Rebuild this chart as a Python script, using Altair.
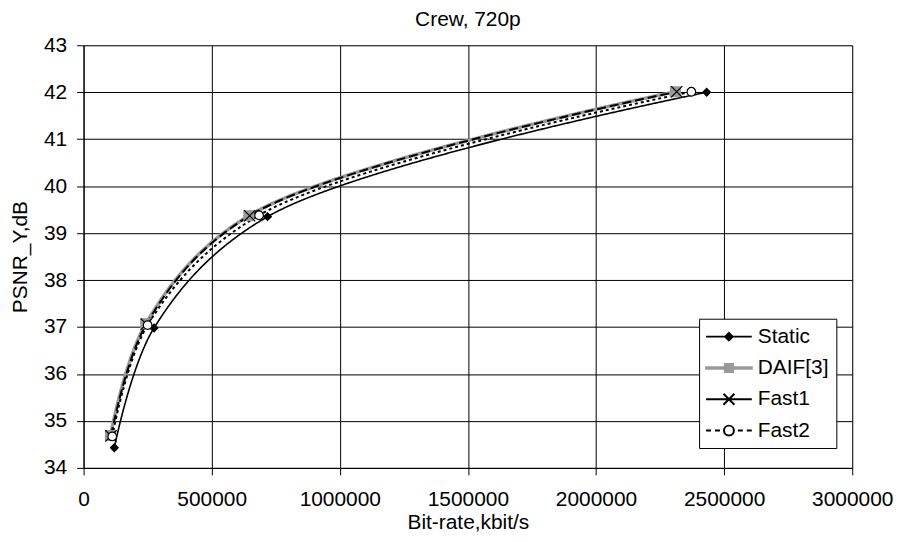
import altair as alt
import pandas as pd

# ---- data ----
series_names = ["Static", "DAIF[3]", "Fast1", "Fast2"]
static_rate = [120000, 275000, 718000, 2432000]
static_psnr = [34.43, 36.98, 39.35, 42.00]
daif_rate = [105000, 243000, 645000, 2310000]
daif_psnr = [34.69, 37.07, 39.37, 42.01]
fast1_rate = [107000, 245000, 648000, 2315000]
fast1_psnr = [34.68, 37.06, 39.37, 42.01]
fast2_rate = [112000, 250000, 685000, 2372000]
fast2_psnr = [34.67, 37.04, 39.38, 42.01]

x_ticks = [0, 500000, 1000000, 1500000, 2000000, 2500000, 3000000]
y_ticks = [34 + 0.5 * i for i in range(19)]

rates = [static_rate, daif_rate, fast1_rate, fast2_rate]
psnrs = [static_psnr, daif_psnr, fast1_psnr, fast2_psnr]
rows = []
for name, r, p in zip(series_names, rates, psnrs):
    for i, (a, b) in enumerate(zip(r, p)):
        rows.append({"series": name, "rate": a, "psnr": b, "idx": i})
df = pd.DataFrame(rows)

# ---- styles ----
line_colors = ["#000000", "#999999", "#000000", "#000000"]
line_widths = [1.6, 3.5, 2, 2]
line_dashes = [[1, 0], [1, 0], [9, 4], [3, 3]]
X_SHAPE = "M-1,-1L1,1M-1,1L1,-1"
marker_shapes = ["diamond", "square", X_SHAPE, "circle"]
marker_fill = ["#000000", "#999999", "transparent", "#ffffff"]
marker_stroke = ["#000000", "#999999", "#000000", "#000000"]
marker_sizes = [60, 100, 130, 75]

# legend glyphs (units of 10 px, symbol centre is 11 px from entry start)
legend_paths = [
    "M-1.1,0H3.5M1.2,-0.38L1.58,0L1.2,0.38L0.82,0Z",
    "M-1.1,-0.07H3.5V0.07H-1.1ZM0.8,-0.4H1.6V0.4H0.8Z",
    "M-1.1,0H3.5M0.65,-0.55L1.75,0.55M0.65,0.55L1.75,-0.55",
    "M-1.1,0H-0.6M-0.2,0H0.3M2.1,0H2.6M3.0,0H3.5"
    "M1.7,0A0.5,0.5 0 1,1 0.7,0A0.5,0.5 0 1,1 1.7,0Z",
]
legend_fill = ["#000000", "#999999", "transparent", "#ffffff"]
legend_stroke = ["#000000", "#999999", "#000000", "#000000"]

FONT = "Liberation Sans"
FS = 21

x_axis = alt.Axis(values=x_ticks, title="Bit-rate,kbit/s", format="d",
                  grid=True, gridColor="#000000", gridWidth=1,
                  domainColor="#000000", tickColor="#000000", tickSize=7,
                  labelPadding=14, titlePadding=2,
                  labelFontSize=FS, titleFontSize=FS, labelFont=FONT, titleFont=FONT,
                  labelColor="#000000", titleColor="#000000", titleFontWeight="normal",
                  labelFlush=False)
y_axis = alt.Axis(values=y_ticks, title="PSNR_Y,dB",
                  labelExpr="datum.value % 1 === 0 ? datum.label : ''",
                  grid=True,
                  gridColor={"condition": {"test": "datum.value % 1 === 0", "value": "#000000"}, "value": "#808080"},
                  tickOpacity={"condition": {"test": "datum.value % 1 === 0", "value": 1}, "value": 0},
                  domainColor="#000000", tickColor="#000000", tickSize=7,
                  labelPadding=10, titlePadding=13,
                  labelFontSize=FS, titleFontSize=FS, labelFont=FONT, titleFont=FONT,
                  labelColor="#000000", titleColor="#000000", titleFontWeight="normal",
                  labelFlush=False)

x_scale = alt.Scale(domain=[0, 3000000], nice=False)
y_scale = alt.Scale(domain=[34, 43], nice=False, zero=False)

base = alt.Chart(df)
layers = []
for k, name in enumerate(series_names):
    layers.append(
        base.transform_filter(alt.datum.series == name).mark_line(
            interpolate="catmull-rom", color=line_colors[k], strokeWidth=line_widths[k],
            strokeDash=line_dashes[k]
        ).encode(
            x=alt.X("rate:Q", scale=x_scale, axis=x_axis),
            y=alt.Y("psnr:Q", scale=y_scale, axis=y_axis),
            order="idx:Q",
        )
    )
for k, name in enumerate(series_names):
    layers.append(
        base.transform_filter(alt.datum.series == name).mark_point(
            shape=marker_shapes[k], size=marker_sizes[k], fill=marker_fill[k],
            stroke=marker_stroke[k], filled=False, opacity=1, strokeWidth=1.2
        ).encode(x="rate:Q", y="psnr:Q")
    )

legend = alt.Legend(
    title=None, orient="none", legendX=619, legendY=275,
    symbolSize=400, labelFontSize=FS, labelFont=FONT, labelColor="#000000",
    strokeColor="#000000", fillColor="#ffffff", padding=7, rowPadding=10.5,
    labelOffset=30, symbolStrokeWidth=2, symbolOpacity=1,
)
legend_layer = base.transform_filter("false").mark_point(filled=True, opacity=1, strokeWidth=2).encode(
    x="rate:Q", y="psnr:Q",
    shape=alt.Shape("series:N", scale=alt.Scale(domain=series_names, range=legend_paths), legend=legend, sort=series_names),
    fill=alt.Fill("series:N", scale=alt.Scale(domain=series_names, range=legend_fill), legend=legend, sort=series_names),
    stroke=alt.Stroke("series:N", scale=alt.Scale(domain=series_names, range=legend_stroke), legend=legend, sort=series_names),
)
layers.append(legend_layer)

chart = alt.layer(*layers).properties(
    width=773, height=425,
    autosize=alt.AutoSizeParams(type="none"),
    padding={"left": 76, "top": 36, "right": 41, "bottom": 65},
    title=alt.Title("Crew, 720p", fontSize=FS, font=FONT, fontWeight="normal", color="#000000", offset=4),
).configure_view(stroke="#808080", strokeWidth=1).configure(background="#ffffff")

chart.save("out.html", embed_options={"renderer": "svg", "actions": False})
